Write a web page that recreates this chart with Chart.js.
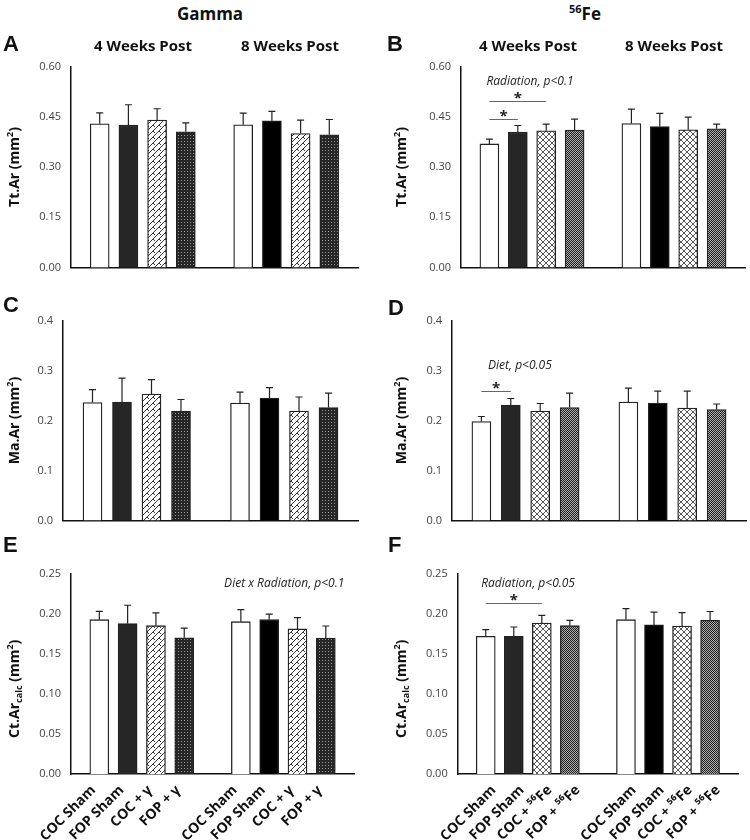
<!DOCTYPE html>
<html>
<head>
<meta charset="utf-8">
<script src="https://cdn.jsdelivr.net/npm/chart.js@4.4.1/dist/chart.umd.min.js"></script>
<style>
  body { margin: 0; background: #fff; }
  #fig { position: relative; width: 750px; height: 840px; font-family: 'Open Sans', sans-serif; color: #111; overflow: hidden; }
  canvas { position: absolute; }
  .lbl { position: absolute; white-space: nowrap; transform: translate(-50%, -50%); font-weight: bold; }
  .letter { font-family: 'Liberation Sans', Arial, sans-serif; font-size: 22px; transform: translate(0, -50%); }
  .col { font-size: 17px; }
  .grp { font-size: 15px; }
  sup { font-size: 11px; }
</style>
</head>
<body>
<div id="fig">
  <canvas id="chartA" width="366" height="218" style="left:0px;top:58px"></canvas>
  <canvas id="chartB" width="375" height="218" style="left:375px;top:58px"></canvas>
  <canvas id="chartC" width="366" height="218" style="left:0px;top:310px"></canvas>
  <canvas id="chartD" width="375" height="218" style="left:375px;top:310px"></canvas>
  <canvas id="chartE" width="366" height="275" style="left:0px;top:565px"></canvas>
  <canvas id="chartF" width="375" height="275" style="left:375px;top:565px"></canvas>

  <div class="lbl col" style="left:210px;top:13px">Gamma</div>
  <div class="lbl col" style="left:585px;top:13px"><sup>56</sup>Fe</div>

  <div class="lbl letter" style="left:3px;top:44px">A</div>
  <div class="lbl letter" style="left:387px;top:44px">B</div>
  <div class="lbl letter" style="left:3px;top:305px">C</div>
  <div class="lbl letter" style="left:388px;top:308px">D</div>
  <div class="lbl letter" style="left:3px;top:545px">E</div>
  <div class="lbl letter" style="left:388px;top:545px">F</div>

  <div class="lbl grp" style="left:143px;top:45px">4 Weeks Post</div>
  <div class="lbl grp" style="left:290px;top:45px">8 Weeks Post</div>
  <div class="lbl grp" style="left:528px;top:45px">4 Weeks Post</div>
  <div class="lbl grp" style="left:674px;top:45px">8 Weeks Post</div>
</div>

<script>
// categories (empty slots at the ends and between the two time points)
const gammaLabels = ['', 'COC Sham', 'FOP Sham', 'COC + γ', 'FOP + γ', '', 'COC Sham', 'FOP Sham', 'COC + γ', 'FOP + γ', ''];
const feLabels = ['', 'COC Sham', 'FOP Sham', 'COC + ⁵⁶Fe', 'FOP + ⁵⁶Fe', '', 'COC Sham', 'FOP Sham', 'COC + ⁵⁶Fe', 'FOP + ⁵⁶Fe', ''];

// Tt.Ar (mm2)
const gammaTtAr    = [null, 0.429, 0.425, 0.440, 0.405, null, 0.426, 0.438, 0.400, 0.396, null];
const gammaTtArErr = [null, 0.033, 0.061, 0.034, 0.027, null, 0.035, 0.028, 0.040, 0.046, null];
const feTtAr       = [null, 0.369, 0.404, 0.408, 0.410, null, 0.430, 0.421, 0.411, 0.414, null];
const feTtArErr    = [null, 0.014, 0.020, 0.020, 0.033, null, 0.043, 0.039, 0.038, 0.014, null];

// Ma.Ar (mm2)
const gammaMaAr    = [null, 0.236, 0.237, 0.253, 0.219, null, 0.235, 0.245, 0.219, 0.226, null];
const gammaMaArErr = [null, 0.026, 0.048, 0.029, 0.023, null, 0.022, 0.021, 0.028, 0.029, null];
const feMaAr       = [null, 0.198, 0.231, 0.219, 0.226, null, 0.237, 0.235, 0.225, 0.222, null];
const feMaArErr    = [null, 0.010, 0.013, 0.015, 0.029, null, 0.028, 0.024, 0.034, 0.011, null];

// Ct.Ar calc (mm2)
const gammaCtAr    = [null, 0.1925, 0.1875, 0.185, 0.170, null, 0.190, 0.1925, 0.181, 0.1696, null];
const gammaCtArErr = [null, 0.0105, 0.023, 0.016, 0.012, null, 0.015, 0.007, 0.014, 0.015, null];
const feCtAr       = [null, 0.1717, 0.1717, 0.1883, 0.185, null, 0.1925, 0.186, 0.1846, 0.1917, null];
const feCtArErr    = [null, 0.0083, 0.0117, 0.0096, 0.0067, null, 0.0138, 0.016, 0.0167, 0.011, null];

// y axis ranges
const ttArAxis = { max: 0.60, step: 0.15, digits: 2 };
const maArAxis = { max: 0.4, step: 0.1, digits: 1 };
const ctArAxis = { max: 0.25, step: 0.05, digits: 2 };

// hatch fills like the excel bar patterns
function makePattern(kind) {
    const c = document.createElement('canvas');
    const g = c.getContext('2d');
    if (kind === 'brick') {
        c.width = 6; c.height = 6;
        g.fillStyle = '#fff'; g.fillRect(0, 0, 6, 6);
        g.strokeStyle = '#333'; g.lineWidth = 1;
        g.beginPath();
        g.moveTo(0, 6); g.lineTo(6, 0);
        g.moveTo(3, 3); g.lineTo(5, 5);
        g.stroke();
    } else if (kind === 'dots') {
        c.width = 3; c.height = 3;
        g.fillStyle = '#262626'; g.fillRect(0, 0, 3, 3);
        g.fillStyle = '#9a9a9a'; g.fillRect(1, 1, 1, 1);
    } else if (kind === 'lattice') {
        c.width = 6; c.height = 6;
        g.fillStyle = '#fff'; g.fillRect(0, 0, 6, 6);
        g.strokeStyle = '#444'; g.lineWidth = 0.9;
        g.beginPath();
        g.moveTo(0, 0); g.lineTo(6, 6);
        g.moveTo(0, 6); g.lineTo(6, 0);
        g.stroke();
    } else if (kind === 'checker') {
        c.width = 2; c.height = 2;
        g.fillStyle = '#b0b0b0'; g.fillRect(0, 0, 2, 2);
        g.fillStyle = '#1e1e1e'; g.fillRect(0, 0, 1, 1); g.fillRect(1, 1, 1, 1);
    }
    return g.createPattern(c, 'repeat');
}

const gammaFills = ['#fff', '#fff', '#262626', makePattern('brick'), makePattern('dots'), '#fff', '#fff', '#000', makePattern('brick'), makePattern('dots'), '#fff'];
const feFills = ['#fff', '#fff', '#262626', makePattern('lattice'), makePattern('checker'), '#fff', '#fff', '#000', makePattern('lattice'), makePattern('checker'), '#fff'];

const errorBars = {
    id: 'errorBars',
    afterDatasetsDraw(chart) {
        const ds = chart.data.datasets[0];
        const meta = chart.getDatasetMeta(0);
        const y = chart.scales.y;
        const ctx = chart.ctx;
        ctx.save();
        ctx.strokeStyle = '#222';
        ctx.lineWidth = 1.2;
        meta.data.forEach((bar, i) => {
            const v = ds.data[i];
            if (v == null) return;
            const top = y.getPixelForValue(v + ds.errors[i]);
            ctx.beginPath();
            ctx.moveTo(bar.x, bar.y);
            ctx.lineTo(bar.x, top);
            ctx.moveTo(bar.x - 3.5, top);
            ctx.lineTo(bar.x + 3.5, top);
            ctx.stroke();
        });
        ctx.restore();
    }
};

// stats notes and significance lines, placed in data units
const notes = {
    id: 'notes',
    afterDraw(chart, args, opts) {
        const x = chart.scales.x, y = chart.scales.y, ctx = chart.ctx;
        ctx.save();
        ctx.fillStyle = '#222';
        ctx.textAlign = 'center';
        (opts.texts || []).forEach(t => {
            ctx.font = 'italic 12px "Open Sans"';
            ctx.textBaseline = 'middle';
            ctx.fillText(t.text, x.getPixelForValue(t.x), y.getPixelForValue(t.y));
        });
        (opts.brackets || []).forEach(b => {
            const x1 = x.getPixelForValue(b.from), x2 = x.getPixelForValue(b.to);
            const py = Math.round(y.getPixelForValue(b.y)) + 0.5;
            ctx.strokeStyle = '#666';
            ctx.lineWidth = 1;
            ctx.beginPath();
            ctx.moveTo(x1, py); ctx.lineTo(x2, py);
            ctx.stroke();
            ctx.font = 'bold 15px "Open Sans"';
            ctx.textBaseline = 'alphabetic';
            ctx.fillText('*', (x1 + x2) / 2, py + 1);
        });
        ctx.restore();
    }
};

// rotated y title with sup/sub parts
const yTitle = {
    id: 'yTitle',
    afterDraw(chart, args, opts) {
        if (!opts.parts) return;
        const ctx = chart.ctx;
        const area = chart.chartArea;
        const cy = (area.top + area.bottom) / 2 + (opts.dy || 0);
        const fontFor = p => p[1] ? 'bold 9px "Open Sans"' : 'bold 14px "Open Sans"';
        ctx.save();
        ctx.translate(opts.x, cy);
        ctx.rotate(-Math.PI / 2);
        ctx.fillStyle = '#111';
        ctx.textBaseline = 'middle';
        ctx.textAlign = 'left';
        let total = 0;
        opts.parts.forEach(p => { ctx.font = fontFor(p); total += ctx.measureText(p[0]).width; });
        let pos = -total / 2;
        opts.parts.forEach(p => {
            ctx.font = fontFor(p);
            const shift = p[1] === 'sup' ? -5 : p[1] === 'sub' ? 4 : 0;
            ctx.fillText(p[0], pos, shift);
            pos += ctx.measureText(p[0]).width;
        });
        ctx.restore();
    }
};

function buildChart(canvas, p, xHeight) {
    return new Chart(canvas, {
        type: 'bar',
        data: {
            labels: p.labels,
            datasets: [{
                data: p.values,
                errors: p.errors,
                backgroundColor: p.fills,
                borderColor: '#222',
                borderWidth: 1.3,
                barThickness: 19
            }]
        },
        options: {
            responsive: false,
            maintainAspectRatio: false,
            animation: false,
            events: [],
            layout: { padding: { top: 0, right: canvas.width - p.area.right, left: 0, bottom: 0 } },
            plugins: {
                legend: { display: false },
                tooltip: { enabled: false },
                notes: p.notes || {},
                yTitle: { parts: p.title, x: p.titleX, dy: p.titleDy || 0 }
            },
            scales: {
                x: {
                    offset: false,
                    grid: { display: false, offset: false },
                    border: { display: true, color: '#111', width: 1.5 },
                    ticks: {
                        display: p.showLabels,
                        autoSkip: false,
                        maxRotation: 45,
                        minRotation: 45,
                        labelOffset: p.labelShift || 0,
                        padding: 0,
                        color: '#111',
                        font: { family: 'Open Sans', weight: 'bold', size: 14 }
                    },
                    afterFit: s => { s.height = xHeight; }
                },
                y: {
                    min: 0,
                    max: p.axis.max,
                    grid: { display: false, drawTicks: false },
                    border: { display: true, color: '#111', width: 1.5 },
                    ticks: {
                        stepSize: p.axis.step,
                        padding: 10,
                        color: '#444',
                        font: { family: 'Open Sans', size: 11 },
                        callback: v => v.toFixed(p.axis.digits)
                    },
                    afterFit: s => { s.width = p.area.left - parseFloat(canvas.style.left); }
                }
            }
        },
        plugins: [errorBars, notes, yTitle]
    });
}

// build once to measure the label overhang, then move/resize the canvas so the
// plot box sits where the reference has it
function makePanel(id, p) {
    const canvas = document.getElementById(id);
    const xHeight = p.xHeight;
    let chart = buildChart(canvas, p, xHeight);
    const a = chart.chartArea;
    const wantH = p.area.bottom - p.area.top;
    const grow = wantH - (a.bottom - a.top);
    const topOff = a.top;
    chart.destroy();
    canvas.height = Math.round(canvas.height + grow);
    canvas.style.top = (p.area.top - topOff) + 'px';
    return buildChart(canvas, p, xHeight);
}

const ttTitle = [['Tt.Ar (mm'], ['2', 'sup'], [')']];
const maTitle = [['Ma.Ar (mm'], ['2', 'sup'], [')']];
const ctTitle = [['Ct.Ar'], ['calc', 'sub'], [' (mm'], ['2', 'sup'], [')']];

makePanel('chartA', {
    labels: gammaLabels, values: gammaTtAr, errors: gammaTtArErr, fills: gammaFills,
    axis: ttArAxis, area: { left: 71, top: 67, right: 358, bottom: 268 }, xHeight: 8,
    title: ttTitle, titleX: 15, showLabels: false
});
makePanel('chartB', {
    labels: feLabels, values: feTtAr, errors: feTtArErr, fills: feFills,
    axis: ttArAxis, area: { left: 461, top: 67, right: 370, bottom: 268 }, xHeight: 8,
    title: ttTitle, titleX: 27, showLabels: false,
    notes: {
        texts: [{ text: 'Radiation, p<0.1', x: 2.43, y: 0.555 }],
        brackets: [{ from: 1, to: 3, y: 0.496 }, { from: 1, to: 2, y: 0.444 }]
    }
});
makePanel('chartC', {
    labels: gammaLabels, values: gammaMaAr, errors: gammaMaArErr, fills: gammaFills,
    axis: maArAxis, area: { left: 63, top: 320.7, right: 358, bottom: 520 }, xHeight: 8,
    title: maTitle, titleX: 15, showLabels: false
});
makePanel('chartD', {
    labels: feLabels, values: feMaAr, errors: feMaArErr, fills: feFills,
    axis: maArAxis, area: { left: 452, top: 320.7, right: 371, bottom: 520 }, xHeight: 8,
    title: maTitle, titleX: 27, showLabels: false,
    notes: {
        texts: [{ text: 'Diet, p<0.05', x: 2.31, y: 0.309 }],
        brackets: [{ from: 1, to: 2, y: 0.259 }]
    }
});
makePanel('chartE', {
    labels: gammaLabels, values: gammaCtAr, errors: gammaCtArErr, fills: gammaFills,
    axis: ctArAxis, area: { left: 71, top: 573.3, right: 358, bottom: 773.3 }, xHeight: 67,
    title: ctTitle, titleX: 15, titleDy: 15, showLabels: true, labelShift: -6,
    notes: {
        texts: [{ text: 'Diet x Radiation, p<0.1', x: 7.53, y: 0.238 }]
    }
});
makePanel('chartF', {
    labels: feLabels, values: feCtAr, errors: feCtArErr, fills: feFills,
    axis: ctArAxis, area: { left: 457.7, top: 573.3, right: 371, bottom: 773.3 }, xHeight: 67,
    title: ctTitle, titleX: 27, titleDy: 15, showLabels: true, labelShift: 8,
    notes: {
        texts: [{ text: 'Radiation, p<0.05', x: 2.51, y: 0.238 }],
        brackets: [{ from: 1, to: 3, y: 0.213 }]
    }
});
</script>
</body>
</html>
